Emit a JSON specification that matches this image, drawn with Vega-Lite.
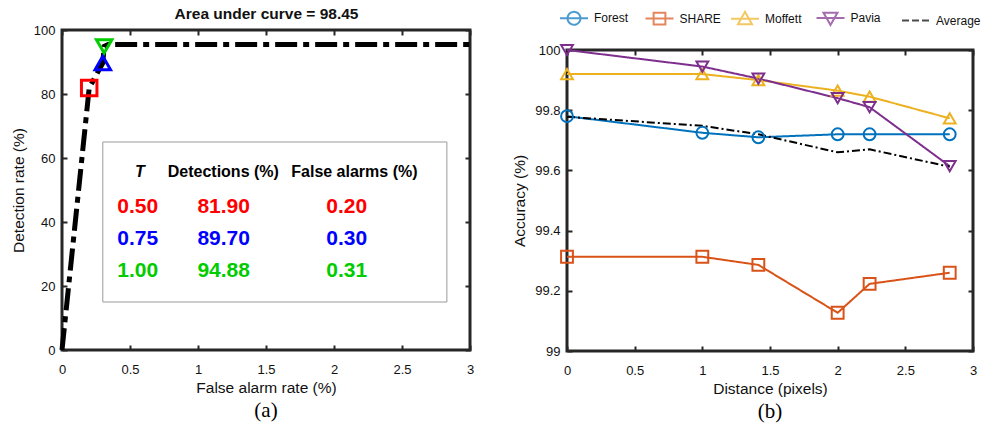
{
  "$schema": "https://vega.github.io/schema/vega-lite/v6.json",
  "padding": {"left": 9, "top": 3, "right": 0, "bottom": 0},
  "spacing": 29,
  "resolve": {"scale": {"color": "independent", "shape": "independent", "strokeDash": "independent"}, "legend": {"color": "independent", "shape": "independent", "strokeDash": "independent"}},
  "datasets": {
    "roc": [
      {"fa": 0, "det": 0},
      {"fa": 0.2, "det": 81.9},
      {"fa": 0.3, "det": 89.7},
      {"fa": 0.31, "det": 94.88},
      {"fa": 0.34, "det": 95.5},
      {"fa": 3, "det": 95.5}
    ],
    "thr": [
      {"T": 0.5, "det": 81.9, "fa": 0.2},
      {"T": 0.75, "det": 89.7, "fa": 0.3},
      {"T": 1.0, "det": 94.88, "fa": 0.31}
    ],
    "acc": [
      {"series": "Forest", "dist": 0, "acc": 99.78},
      {"series": "Forest", "dist": 1, "acc": 99.725},
      {"series": "Forest", "dist": 1.414, "acc": 99.71},
      {"series": "Forest", "dist": 2, "acc": 99.72},
      {"series": "Forest", "dist": 2.236, "acc": 99.72},
      {"series": "Forest", "dist": 2.828, "acc": 99.72},
      {"series": "SHARE", "dist": 0, "acc": 99.313},
      {"series": "SHARE", "dist": 1, "acc": 99.313},
      {"series": "SHARE", "dist": 1.414, "acc": 99.286},
      {"series": "SHARE", "dist": 2, "acc": 99.127},
      {"series": "SHARE", "dist": 2.236, "acc": 99.223},
      {"series": "SHARE", "dist": 2.828, "acc": 99.26},
      {"series": "Moffett", "dist": 0, "acc": 99.92},
      {"series": "Moffett", "dist": 1, "acc": 99.92},
      {"series": "Moffett", "dist": 1.414, "acc": 99.9},
      {"series": "Moffett", "dist": 2, "acc": 99.865},
      {"series": "Moffett", "dist": 2.236, "acc": 99.845},
      {"series": "Moffett", "dist": 2.828, "acc": 99.773},
      {"series": "Pavia", "dist": 0, "acc": 100},
      {"series": "Pavia", "dist": 1, "acc": 99.945},
      {"series": "Pavia", "dist": 1.414, "acc": 99.905},
      {"series": "Pavia", "dist": 2, "acc": 99.84},
      {"series": "Pavia", "dist": 2.236, "acc": 99.81},
      {"series": "Pavia", "dist": 2.828, "acc": 99.614},
      {"series": "Average", "dist": 0, "acc": 99.778},
      {"series": "Average", "dist": 1, "acc": 99.748},
      {"series": "Average", "dist": 1.414, "acc": 99.72},
      {"series": "Average", "dist": 2, "acc": 99.66},
      {"series": "Average", "dist": 2.236, "acc": 99.67},
      {"series": "Average", "dist": 2.828, "acc": 99.612}
    ]
  },
  "hconcat": [
    {
      "width": 408,
      "height": 320,
      "title": {"text": "(a)", "orient": "bottom", "font": "Liberation Serif", "fontSize": 21, "fontWeight": "normal", "color": "black", "offset": 4, "anchor": "middle", "frame": "group"},
      "layer": [
        {
          "data": {"values": [{}]},
          "mark": {"type": "rect", "fill": "white", "stroke": "#9a9a9a", "strokeWidth": 1},
          "encoding": {
            "x": {"datum": 0.3, "type": "quantitative", "scale": {"domain": [0, 3]}, "axis": null},
            "x2": {"datum": 2.83},
            "y": {"datum": 15, "type": "quantitative", "scale": {"domain": [0, 100]}, "axis": null},
            "y2": {"datum": 65}
          }
        },
        {
          "data": {"name": "roc"},
          "mark": {"type": "line", "color": "black", "strokeWidth": 5, "strokeDash": [22, 6, 6, 6], "strokeCap": "butt"},
          "encoding": {
            "x": {"field": "fa", "type": "quantitative", "scale": {"domain": [0, 3]}, "axis": {"orient": "bottom", "title": "False alarm rate (%)", "values": [0, 0.5, 1, 1.5, 2, 2.5, 3], "format": "~g"}},
            "y": {"field": "det", "type": "quantitative", "scale": {"domain": [0, 100]}, "axis": {"orient": "left", "title": "Detection rate (%)", "values": [0, 20, 40, 60, 80, 100]}}
          }
        },
        {
          "data": {"name": "thr"},
          "mark": {"type": "point", "filled": false, "strokeWidth": 3, "size": 240, "opacity": 1},
          "encoding": {
            "x": {"field": "fa", "type": "quantitative", "scale": {"domain": [0, 3]}, "axis": null},
            "y": {"field": "det", "type": "quantitative", "scale": {"domain": [0, 100]}, "axis": null},
            "color": {"field": "T", "type": "nominal", "scale": {"domain": [0.5, 0.75, 1], "range": ["#ff0000", "#0000ff", "#00cc00"]}, "legend": null},
            "shape": {"field": "T", "type": "nominal", "scale": {"domain": [0.5, 0.75, 1], "range": ["square", "triangle-up", "triangle-down"]}, "legend": null}
          }
        },
        {
          "data": {"name": "roc"},
          "mark": {"type": "point", "opacity": 0},
          "encoding": {
            "x": {"field": "fa", "type": "quantitative", "scale": {"domain": [0, 3]}, "axis": {"orient": "top", "labels": false, "title": "Area under curve = 98.45", "titleFontWeight": "bold", "titleFontSize": 15.5, "titlePadding": 8, "values": [0, 0.5, 1, 1.5, 2, 2.5, 3]}},
            "y": {"field": "det", "type": "quantitative", "scale": {"domain": [0, 100]}, "axis": {"orient": "right", "labels": false, "title": null, "values": [0, 20, 40, 60, 80, 100]}}
          }
        },
        {
          "data": {"values": [{}]},
          "mark": {"type": "text", "text": "T", "fontSize": 16, "fontWeight": "bold", "fontStyle": "italic", "baseline": "middle", "align": "center", "color": "black"},
          "encoding": {
            "x": {"datum": 0.573, "type": "quantitative", "scale": {"domain": [0, 3]}, "axis": null},
            "y": {"datum": 55.5, "type": "quantitative", "scale": {"domain": [0, 100]}, "axis": null}
          }
        },
        {
          "data": {"values": [{}]},
          "mark": {"type": "text", "text": "Detections (%)", "fontSize": 16, "fontWeight": "bold", "baseline": "middle", "align": "center", "color": "black"},
          "encoding": {
            "x": {"datum": 1.186, "type": "quantitative", "scale": {"domain": [0, 3]}, "axis": null},
            "y": {"datum": 55.5, "type": "quantitative", "scale": {"domain": [0, 100]}, "axis": null}
          }
        },
        {
          "data": {"values": [{}]},
          "mark": {"type": "text", "text": "False alarms (%)", "fontSize": 16, "fontWeight": "bold", "baseline": "middle", "align": "center", "color": "black"},
          "encoding": {
            "x": {"datum": 2.15, "type": "quantitative", "scale": {"domain": [0, 3]}, "axis": null},
            "y": {"datum": 55.5, "type": "quantitative", "scale": {"domain": [0, 100]}, "axis": null}
          }
        },
        {
          "data": {"name": "thr"},
          "mark": {"type": "text", "fontSize": 21, "fontWeight": "bold", "baseline": "middle", "align": "center"},
          "encoding": {
            "x": {"datum": 0.557, "type": "quantitative", "scale": {"domain": [0, 3]}, "axis": null},
            "y": {"field": "T", "type": "quantitative", "scale": {"domain": [0.5, 1], "range": [176.6, 241]}, "axis": null},
            "text": {"field": "T", "type": "quantitative", "format": ".2f"},
            "color": {"field": "T", "type": "nominal", "legend": null}
          }
        },
        {
          "data": {"name": "thr"},
          "mark": {"type": "text", "fontSize": 21, "fontWeight": "bold", "baseline": "middle", "align": "center"},
          "encoding": {
            "x": {"datum": 1.189, "type": "quantitative", "scale": {"domain": [0, 3]}, "axis": null},
            "y": {"field": "T", "type": "quantitative", "scale": {"domain": [0.5, 1], "range": [176.6, 241]}, "axis": null},
            "text": {"field": "det", "type": "quantitative", "format": ".2f"},
            "color": {"field": "T", "type": "nominal", "legend": null}
          }
        },
        {
          "data": {"name": "thr"},
          "mark": {"type": "text", "fontSize": 21, "fontWeight": "bold", "baseline": "middle", "align": "center"},
          "encoding": {
            "x": {"datum": 2.093, "type": "quantitative", "scale": {"domain": [0, 3]}, "axis": null},
            "y": {"field": "T", "type": "quantitative", "scale": {"domain": [0.5, 1], "range": [176.6, 241]}, "axis": null},
            "text": {"field": "fa", "type": "quantitative", "format": ".2f"},
            "color": {"field": "T", "type": "nominal", "legend": null}
          }
        }
      ],
      "resolve": {"scale": {"y": "independent"}, "axis": {"x": "independent", "y": "independent"}}
    },
    {
      "spacing": 8,
      "resolve": {"scale": {"color": "independent", "shape": "independent", "strokeDash": "independent"}, "legend": {"color": "independent", "shape": "independent", "strokeDash": "independent"}},
      "vconcat": [
        {
          "width": 406,
          "height": 1,
          "view": {"stroke": null},
          "data": {"name": "acc"},
          "transform": [{"filter": "datum.series == 'none'"}],
          "mark": {"type": "point", "filled": false, "strokeWidth": 2},
          "encoding": {
            "color": {"field": "series", "type": "nominal", "title": null, "scale": {"domain": ["Forest", "SHARE", "Moffett", "Pavia", "Average"], "range": ["#0072BD", "#D95319", "#EDB120", "#7E2F8E", "#000000"]}},
            "strokeDash": {"field": "series", "type": "nominal", "title": null, "scale": {"domain": ["Forest", "SHARE", "Moffett", "Pavia", "Average"], "range": [[1, 0], [1, 0], [1, 0], [1, 0], [7, 3]]}},
            "shape": {"field": "series", "type": "nominal", "title": null, "scale": {"domain": ["Forest", "SHARE", "Moffett", "Pavia", "Average"], "range": ["M-1,0H1M-0.46,0A0.46,0.46,0,1,0,0.46,0A0.46,0.46,0,1,0,-0.46,0Z", "M-1,0H1M-0.42,-0.42H0.42V0.42H-0.42Z", "M-1,0H1M0,-0.5L0.5,0.38H-0.5Z", "M-1,0H1M0,0.5L0.5,-0.38H-0.5Z", "M-1,0H1"]}}
          }
        },
        {
          "width": 406,
          "height": 301,
          "title": {"text": "(b)", "orient": "bottom", "font": "Liberation Serif", "fontSize": 21, "fontWeight": "normal", "color": "black", "offset": 4, "anchor": "middle", "frame": "group"},
          "data": {"name": "acc"},
          "layer": [
            {
              "mark": {"type": "line", "strokeWidth": 2},
              "encoding": {
                "x": {"field": "dist", "type": "quantitative", "scale": {"domain": [0, 3]}, "axis": {"orient": "bottom", "title": "Distance (pixels)", "values": [0, 0.5, 1, 1.5, 2, 2.5, 3], "format": "~g"}},
                "y": {"field": "acc", "type": "quantitative", "scale": {"domain": [99, 100]}, "axis": {"orient": "left", "title": "Accuracy (%)", "values": [99, 99.2, 99.4, 99.6, 99.8, 100], "format": "~g"}},
                "color": {"field": "series", "type": "nominal", "scale": {"domain": ["Forest", "SHARE", "Moffett", "Pavia", "Average"], "range": ["#0072BD", "#D95319", "#EDB120", "#7E2F8E", "#000000"]}, "legend": null},
                "strokeDash": {"field": "series", "type": "nominal", "scale": {"domain": ["Forest", "SHARE", "Moffett", "Pavia", "Average"], "range": [[1, 0], [1, 0], [1, 0], [1, 0], [8, 3, 2, 3]]}, "legend": null}
              }
            },
            {
              "transform": [{"filter": "datum.series != 'Average'"}],
              "mark": {"type": "point", "filled": false, "strokeWidth": 2, "size": 140, "opacity": 1},
              "encoding": {
                "x": {"field": "dist", "type": "quantitative", "scale": {"domain": [0, 3]}, "axis": null},
                "y": {"field": "acc", "type": "quantitative", "scale": {"domain": [99, 100]}, "axis": null},
                "color": {"field": "series", "type": "nominal", "legend": null},
                "shape": {"field": "series", "type": "nominal", "scale": {"domain": ["Forest", "SHARE", "Moffett", "Pavia", "Average"], "range": ["circle", "square", "triangle-up", "triangle-down", "stroke"]}, "legend": null}
              }
            },
            {
              "mark": {"type": "point", "opacity": 0},
              "encoding": {
                "x": {"field": "dist", "type": "quantitative", "scale": {"domain": [0, 3]}, "axis": {"orient": "top", "labels": false, "title": null, "values": [0, 0.5, 1, 1.5, 2, 2.5, 3]}},
                "y": {"field": "acc", "type": "quantitative", "scale": {"domain": [99, 100]}, "axis": {"orient": "right", "labels": false, "title": null, "values": [99, 99.2, 99.4, 99.6, 99.8, 100]}}
              }
            }
          ],
          "resolve": {"axis": {"x": "independent", "y": "independent"}}
        }
      ]
    }
  ],
  "config": {
    "font": "Liberation Sans",
    "view": {"stroke": "#262626", "strokeWidth": 3},
    "axis": {
      "domain": false, "grid": false, "ticks": true, "tickSize": -5, "tickWidth": 2, "tickColor": "#262626",
      "labelFont": "Liberation Sans", "labelFontSize": 13, "labelColor": "#111111", "labelPadding": 18,
      "labelFlush": false, "labelOverlap": false,
      "titleFont": "Liberation Sans", "titleFontSize": 15.5, "titleFontWeight": "normal", "titleColor": "#111111", "titlePadding": 4
    },
    "axisY": {"titlePadding": 7, "labelPadding": 12},
    "legend": {
      "orient": "none", "legendX": -8, "legendY": -27, "direction": "horizontal", "columns": 5, "gridAlign": "all",
      "columnPadding": 2.5, "labelOffset": 5, "labelFont": "Liberation Sans", "labelFontSize": 12, "labelColor": "#111111",
      "symbolSize": 784, "symbolStrokeWidth": 2, "symbolFillColor": "transparent", "padding": 0
    },
    "text": {"font": "Liberation Sans"}
  }
}
